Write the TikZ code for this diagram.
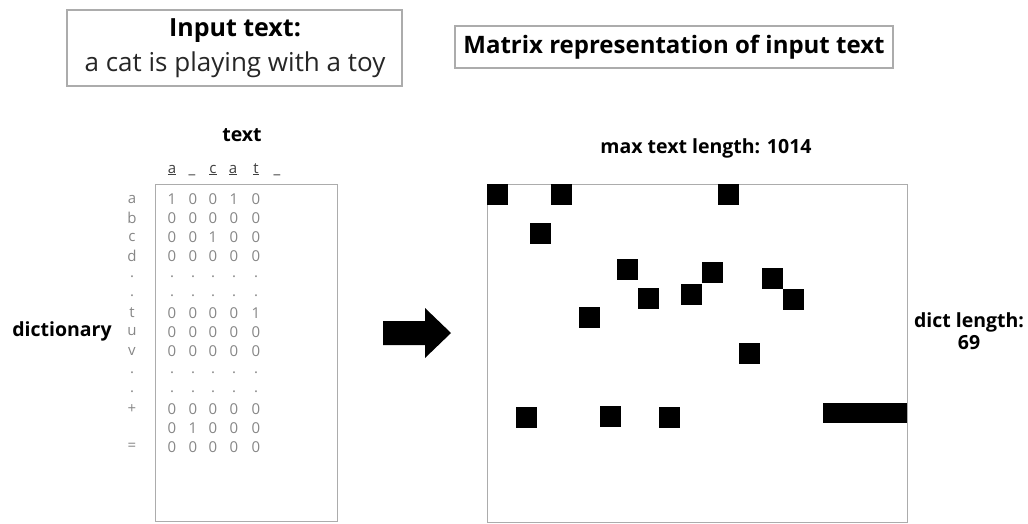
\documentclass[tikz,border=0pt]{standalone}
\usepackage{fontspec}
\setmainfont{Open Sans}
\begin{document}
\begin{tikzpicture}[x=1pt,y=-1pt,
  frame/.style={draw=gray!65,line width=1.3pt,inner sep=0pt},
  cell/.style={fill=black,draw=none,inner sep=0pt,minimum size=21pt,anchor=north west},
  bigtitle/.style={font=\fontsize{25}{30}\selectfont\bfseries,inner sep=0pt},
  plain/.style={font=\fontsize{26}{30}\selectfont,text=black!85,inner sep=0pt},
  lbl/.style={font=\fontsize{19.5}{22}\selectfont\bfseries,inner sep=0pt,align=center},
  num/.style={font=\fontsize{15}{17}\selectfont,text=gray!95,inner sep=0pt},
]
\useasboundingbox (0,0) rectangle (1028,523);

% top boxes
\node[frame,minimum width=335pt,minimum height=76pt] (inbox) at (234.5,48) {};
\node[bigtitle] (intitle) at (235,31) {Input text:};
\node[plain] (intext) at (235,65) {a cat is playing with a toy};
\node[frame,minimum width=438pt,minimum height=42pt] (mbox) at (674,47) {};
\node[bigtitle,font=\fontsize{24}{28}\selectfont\bfseries] (mtitle) at (674,47) {Matrix representation of input text};

% left matrix
\node[frame,minimum width=182pt,minimum height=337pt,anchor=north west] (lmat) at (155,184) {};
\node[lbl] (textlbl) at (242,135) {text};
\node[lbl] (dictlbl) at (62,331) {dictionary};

\foreach \ch/\x [count=\i] in {\underline{a}/172,\_/192,\underline{c}/213,\underline{a}/233,\underline{t}/256,\_/277}
  \node[num,text=black!75,anchor=base] (h\i) at (\x,173) {\ch};

\foreach \r/\y/\vals [count=\k] in {
  a/199/{1,0,0,1,0},
  b/218/{0,0,0,0,0},
  c/237/{0,0,1,0,0},
  d/256/{0,0,0,0,0},
  ./277/{.,.,.,.,.},
  ./296/{.,.,.,.,.},
  t/313/{0,0,0,0,1},
  u/332/{0,0,0,0,0},
  v/351/{0,0,0,0,0},
  ./373/{.,.,.,.,.},
  ./392/{.,.,.,.,.},
  +/409/{0,0,0,0,0},
  {}/428/{0,1,0,0,0},
  =/447/{0,0,0,0,0}} {
  \node[num] (r\k) at (132,\y) {\r};
  \foreach \v/\x [count=\j] in \vals {
    \pgfmathsetmacro{\xx}{{172,193,213,234,256}[\j-1]}
    \node[num] (c\k-\j) at (\xx,\y) {\v};
  }
}

% arrow
\coordinate (a1) at (383,321);
\coordinate (a2) at (425,321);
\coordinate (a3) at (425,308);
\coordinate (tip) at (451,333);
\coordinate (a5) at (425,358);
\coordinate (a6) at (425,345);
\coordinate (a7) at (383,345);
\fill[black] (a1) -- (a2) -- (a3) -- (tip) -- (a5) -- (a6) -- (a7) -- cycle;

% right matrix
\node[frame,minimum width=420pt,minimum height=338pt,anchor=north west] (rmat) at (487,184) {};
\node[lbl] (maxlbl) at (706,148) {max text length: 1014};
\node[lbl] (dlen) at (969,331) {dict length:\\69};

\foreach \x/\y [count=\i] in {487/184,551/184,718/184,530/223,617/259,702/262,762/268,638/288,681/284,783/289,579/307,739/343,516/407,600/406,659/407}
  \node[cell] (s\i) at (\x,\y) {};
\node[cell,minimum width=84pt,minimum height=20pt] (bar) at (823,403) {};
\end{tikzpicture}
\end{document}
